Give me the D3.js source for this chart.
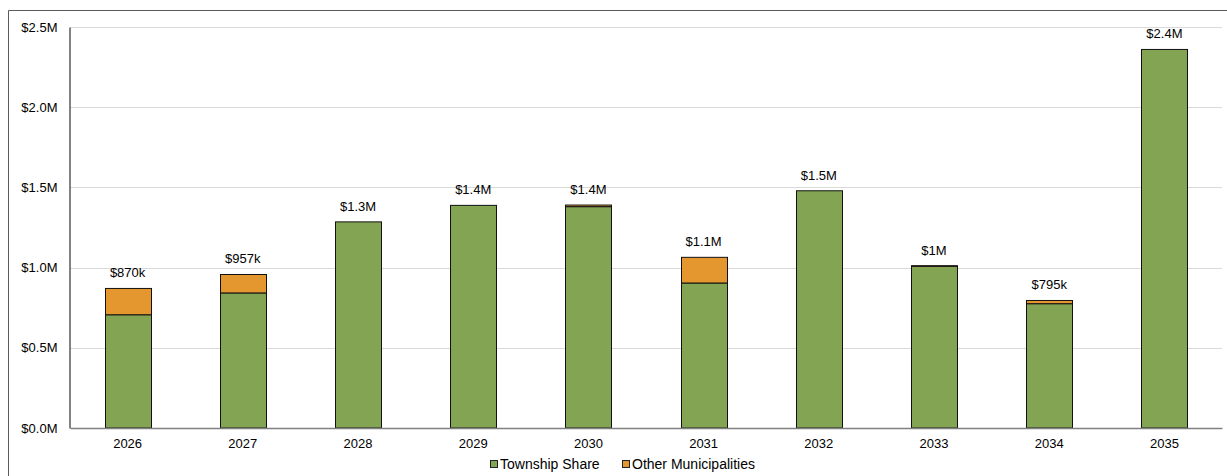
<!DOCTYPE html>
<html>
<head>
<meta charset="utf-8">
<script src="https://cdn.jsdelivr.net/npm/d3@7"></script>
<style>
  html, body { margin: 0; padding: 0; background: #fff; }
  svg { display: block; font-family: Arial, "Liberation Sans", sans-serif; }
</style>
</head>
<body>
<svg id="chart" width="1227" height="476"></svg>
<script>
// Annual funding split by contributor, 2026–2035
const years = ["2026", "2027", "2028", "2029", "2030", "2031", "2032", "2033", "2034", "2035"];
const townshipShare = [706000, 842000, 1285000, 1388000, 1380000, 904000, 1479000, 1008000, 775000, 2360000];
const otherMunicipalities = [164000, 115000, 0, 0, 10000, 160000, 0, 4000, 20000, 0];
const yTicks = [0, 500000, 1000000, 1500000, 2000000, 2500000];
const seriesNames = ["Township Share", "Other Municipalities"];
const seriesColors = ["#82a453", "#e3972e"];

const svg = d3.select("#chart");
const W = 1227, H = 476;
const margin = { left: 70, top: 27 };
const plotRight = 1222, plotBottom = 428;

// Outer frame
svg.append("path")
  .attr("d", `M8.5,${H} V10.5 H${W}`)
  .attr("fill", "none")
  .attr("stroke", "#5a5a5a")
  .attr("stroke-width", 1);

const x = d3.scaleBand().domain(years).range([margin.left, plotRight]).paddingInner(0.6).paddingOuter(0.3);
const y = d3.scaleLinear().domain([0, 2500000]).range([plotBottom, margin.top]);

const fmtAxis = d => "$" + (d / 1e6).toFixed(1) + "M";
const fmtTotal = v => {
  if (v < 1e6) return "$" + Math.round(v / 1000) + "k";
  const s = (v / 1e6).toFixed(1).replace(/\.0$/, "");
  return "$" + s + "M";
};

// Gridlines
svg.append("g")
  .selectAll("line")
  .data(yTicks.filter(d => d > 0))
  .join("line")
  .attr("x1", margin.left).attr("x2", plotRight)
  .attr("y1", d => Math.round(y(d)) + 0.5).attr("y2", d => Math.round(y(d)) + 0.5)
  .attr("stroke", "#d9d9d9").attr("stroke-width", 1);

// Y axis
const yAxis = svg.append("g")
  .attr("transform", `translate(${margin.left - 0.5},0)`)
  .call(d3.axisLeft(y).tickValues(yTicks).tickFormat(fmtAxis).tickSize(0).tickPadding(12));
yAxis.select(".domain").attr("stroke", "#404040").attr("stroke-width", 1.3);
yAxis.selectAll("text").attr("font-size", 13).attr("fill", "#000")
  .attr("font-family", "Arial, 'Liberation Sans', sans-serif");

// Stacked data
const rows = years.map((yr, i) => ({ year: yr, township: townshipShare[i], other: otherMunicipalities[i] }));
const stack = d3.stack().keys(["township", "other"])(rows);

const barG = svg.append("g");
stack.forEach((layer, li) => {
  barG.append("g")
    .selectAll("rect")
    .data(layer.filter(d => d[1] - d[0] > 0))
    .join("rect")
    .attr("x", d => Math.round(x(d.data.year)) + 0.5)
    .attr("width", Math.round(x.bandwidth()))
    .attr("y", d => y(d[1]))
    .attr("height", d => y(d[0]) - y(d[1]))
    .attr("fill", seriesColors[li])
    .attr("stroke", "#111")
    .attr("stroke-width", 1);
});

// X axis (baseline)
const xAxis = svg.append("g")
  .attr("transform", `translate(0,${plotBottom})`)
  .call(d3.axisBottom(x).tickSize(0).tickPadding(11));
xAxis.select(".domain").attr("stroke", "#808080").attr("stroke-width", 1.5);
xAxis.selectAll("text").attr("font-size", 13).attr("fill", "#000")
  .attr("font-family", "Arial, 'Liberation Sans', sans-serif");

// Total labels
svg.append("g")
  .selectAll("text")
  .data(rows)
  .join("text")
  .attr("x", d => x(d.year) + x.bandwidth() / 2)
  .attr("y", d => y(d.township + d.other) - 11)
  .attr("text-anchor", "middle")
  .attr("font-size", 13)
  .attr("fill", "#000")
  .text(d => fmtTotal(d.township + d.other));

// Legend
const legend = svg.append("g").attr("transform", "translate(490,464)");
const legendItems = [
  { name: seriesNames[0], color: seriesColors[0], dx: 0 },
  { name: seriesNames[1], color: seriesColors[1], dx: 132 }
];
const li = legend.selectAll("g").data(legendItems).join("g")
  .attr("transform", d => `translate(${d.dx},0)`);
li.append("rect")
  .attr("x", 0.5).attr("y", -3.5).attr("width", 7).attr("height", 7)
  .attr("fill", d => d.color).attr("stroke", "#222").attr("stroke-width", 1);
li.append("text")
  .attr("x", 10).attr("y", 0).attr("dy", "0.35em")
  .attr("font-size", 14).attr("fill", "#000")
  .text(d => d.name);
</script>
</body>
</html>
